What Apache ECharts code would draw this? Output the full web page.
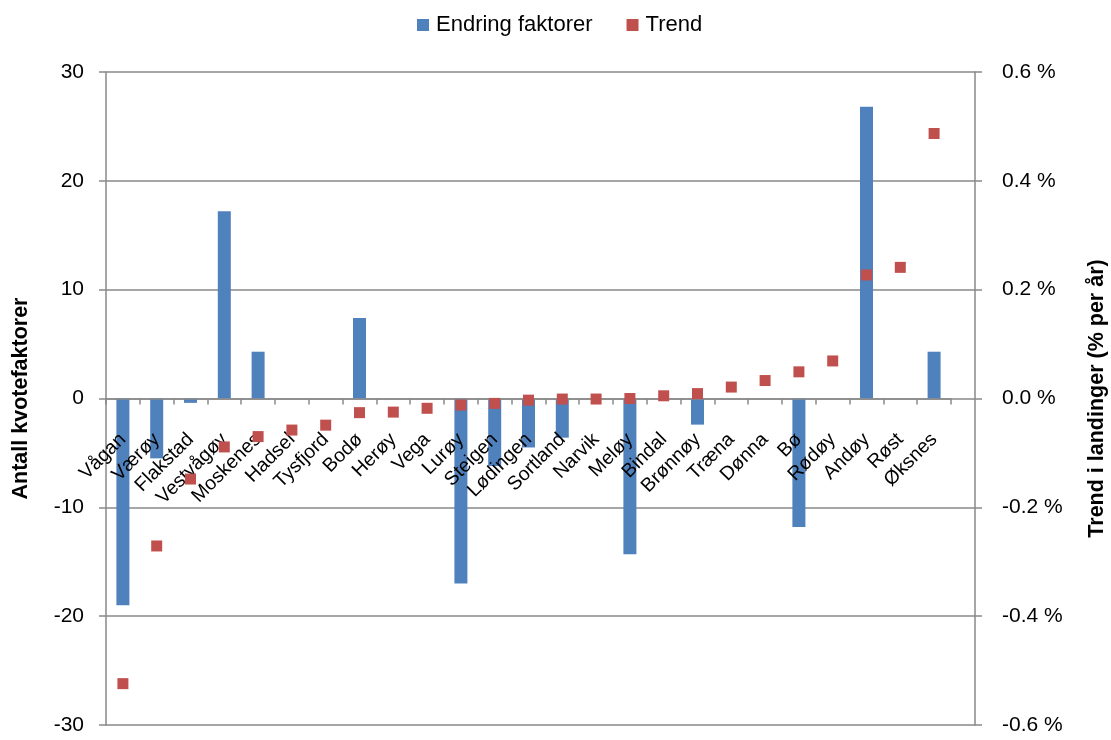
<!DOCTYPE html>
<html lang="no">
<head>
  <meta charset="UTF-8" />
  <title>Endring faktorer og trend</title>
  <script src="https://cdn.jsdelivr.net/npm/echarts@6/dist/echarts.min.js"></script>
  <style>
    html, body { margin: 0; padding: 0; background: #fff; }
    #chart { width: 1111px; height: 740px; }
  </style>
</head>
<body>
  <div id="chart"></div>
  <script>
    const kommuner = ['Vågan', 'Værøy', 'Flakstad', 'Vestvågøy', 'Moskenes', 'Hadsel', 'Tysfjord', 'Bodø', 'Herøy', 'Vega',
      'Lurøy', 'Steigen', 'Lødingen', 'Sortland', 'Narvik', 'Meløy', 'Bindal', 'Brønnøy', 'Træna', 'Dønna',
      'Bø', 'Rødøy', 'Andøy', 'Røst', 'Øksnes'];
    const endringFaktorer = [-19.0, -5.5, -0.4, 17.2, 4.3, 0, 0, 7.4, 0, 0,
      -17.0, -6.2, -4.5, -3.6, 0, -14.3, 0, -2.4, 0, 0,
      -11.8, 0, 26.8, 0, 4.3];
    const trend = [-0.524, -0.271, -0.148, -0.089, -0.070, -0.058, -0.049, -0.026, -0.025, -0.018,
      -0.012, -0.009, -0.003, -0.001, -0.001, 0.000, 0.005, 0.009, 0.021, 0.033,
      0.049, 0.069, 0.227, 0.241, 0.487];
    const venstreAkse = { min: -30, max: 30, interval: 10 };
    const hoyreAkse = { min: -0.6, max: 0.6, interval: 0.2 };

    const font = 'Liberation Sans, Arial, sans-serif';
    const grey = '#898989';
    // plot area: y 72..725, zero line at ~398.5
    const plotTop = 72, plotBottom = 15, zeroFromBottom = 740 - 398.5;

    const chart = echarts.init(document.getElementById('chart'));
    chart.setOption({
      animation: false,
      textStyle: { fontFamily: font, color: '#000' },
      legend: {
        top: 9, left: 417,
        itemWidth: 12, itemHeight: 12, itemGap: 34, padding: [5, 0, 5, 0],
        icon: 'rect',
        textStyle: { fontSize: 22, color: '#000', fontFamily: font, padding: [0, 0, 0, 2] },
        data: ['Endring faktorer', 'Trend']
      },
      grid: [
        { left: 106, right: 160, top: plotTop, bottom: plotBottom, outerBoundsMode: 'none' },
        { left: 106, right: 136, top: plotTop, bottom: plotBottom, outerBoundsMode: 'none' },
        // category axis sits on the zero line
        { left: 106, right: 160, top: plotTop, bottom: zeroFromBottom, outerBoundsMode: 'none' }
      ],
      xAxis: [
        { type: 'category', gridIndex: 0, data: kommuner, show: false },
        { type: 'value', gridIndex: 1, min: 0, max: 1, show: false },
        {
          type: 'category', gridIndex: 2, data: kommuner, position: 'bottom', z: 10,
          axisLine: { onZero: false, lineStyle: { color: grey, width: 1.5 } },
          axisTick: { show: true, length: 6, alignWithLabel: false, interval: 0, lineStyle: { color: grey, width: 1.5 } },
          axisLabel: { interval: 0, rotate: 45, margin: 38, fontSize: 19.5, color: '#000', fontFamily: font },
          splitLine: { show: false }
        }
      ],
      yAxis: [
        { type: 'value', gridIndex: 0, min: venstreAkse.min, max: venstreAkse.max, interval: venstreAkse.interval, show: false },
        { type: 'value', gridIndex: 0, min: hoyreAkse.min, max: hoyreAkse.max, interval: hoyreAkse.interval, show: false },
        {
          type: 'value', gridIndex: 1, position: 'left',
          min: venstreAkse.min, max: venstreAkse.max, interval: venstreAkse.interval,
          name: 'Antall kvotefaktorer', nameLocation: 'middle', nameGap: 74, nameRotate: 90,
          nameTextStyle: { fontSize: 21.5, fontWeight: 'bold', color: '#000', fontFamily: font },
          axisLine: { show: true, lineStyle: { color: grey, width: 1.5 } },
          axisTick: { show: true, length: 7, lineStyle: { color: grey, width: 1.5 } },
          axisLabel: { fontSize: 21, color: '#000', margin: 22, fontFamily: font },
          splitLine: { show: true, lineStyle: { color: grey, width: 1.5 } }
        },
        {
          type: 'value', gridIndex: 1, position: 'right',
          min: hoyreAkse.min, max: hoyreAkse.max, interval: hoyreAkse.interval,
          name: 'Trend i landinger (% per år)', nameLocation: 'middle', nameGap: 111, nameRotate: 90,
          nameTextStyle: { fontSize: 21.5, fontWeight: 'bold', color: '#000', fontFamily: font },
          axisLine: { show: true, lineStyle: { color: grey, width: 1.5 } },
          axisTick: { show: true, length: 7, lineStyle: { color: grey, width: 1.5 } },
          axisLabel: {
            fontSize: 21, color: '#000', margin: 27, fontFamily: font,
            formatter: v => (Math.abs(v) < 1e-9 ? 0 : v).toFixed(1) + ' %'
          },
          splitLine: { show: false }
        },
        { type: 'value', gridIndex: 2, min: 0, max: 1, show: false }
      ],
      series: [
        {
          name: 'Endring faktorer', type: 'bar',
          xAxisIndex: 0, yAxisIndex: 0,
          data: endringFaktorer, barWidth: 13,
          itemStyle: { color: '#4F81BD' }
        },
        {
          name: 'Trend', type: 'scatter', z: 20,
          xAxisIndex: 0, yAxisIndex: 1,
          data: trend, symbol: 'rect', symbolSize: 11,
          itemStyle: { color: '#C0504D', opacity: 1 }
        }
      ]
    });
  </script>
</body>
</html>
